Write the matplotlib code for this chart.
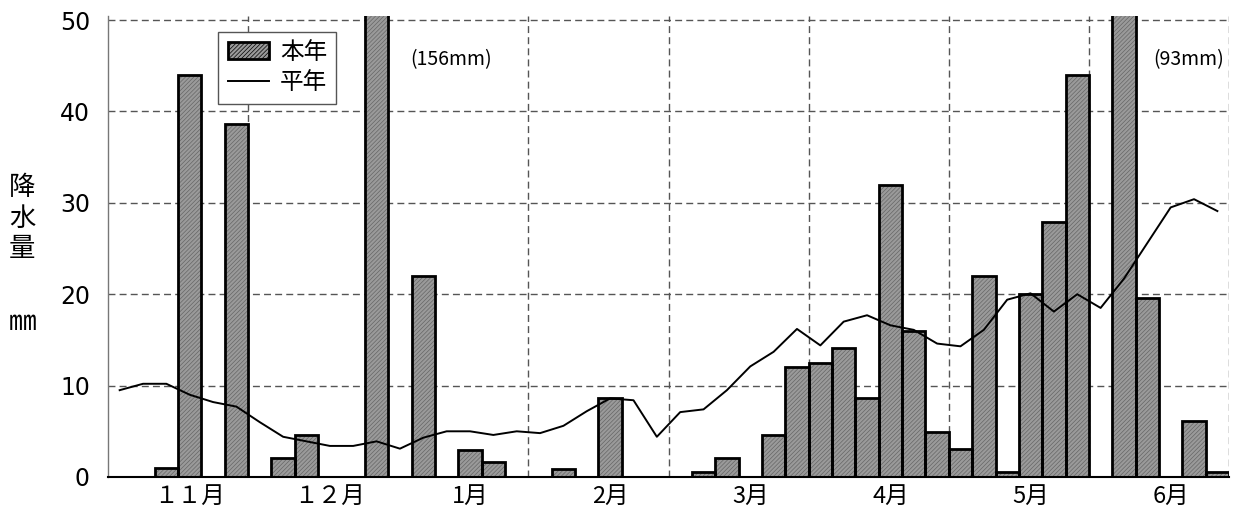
import numpy as np
import matplotlib.pyplot as plt

plt.rcParams['font.family'] = ['Noto Sans CJK JP', 'DejaVu Sans']
plt.rcParams['hatch.linewidth'] = 0.5

# 半旬ごとの降水量 (mm)：11月〜6月、各月6半旬
honnen = [0, 0, 1.0, 44, 0, 38.6,
          0, 2.1, 4.6, 0, 0, 156,
          0, 22, 0, 3.0, 1.6, 0,
          0, 0.9, 0, 8.6, 0, 0,
          0, 0.6, 2.1, 0, 4.6, 12.0,
          12.5, 14.1, 8.6, 31.9, 16.0, 4.9,
          3.1, 22.0, 0.6, 20.0, 27.9, 44.0,
          0, 93, 19.6, 0, 6.1, 0.6]
heinen = [9.5, 10.2, 10.2, 9.0, 8.2, 7.7,
          6.0, 4.4, 3.9, 3.4, 3.4, 3.9,
          3.1, 4.3, 5.0, 5.0, 4.6, 5.0,
          4.8, 5.6, 7.2, 8.6, 8.4, 4.4,
          7.1, 7.4, 9.5, 12.1, 13.7, 16.2,
          14.4, 17.0, 17.7, 16.6, 16.1, 14.6,
          14.3, 16.1, 19.4, 20.1, 18.1, 20.0,
          18.5, 21.7, 25.6, 29.5, 30.4, 29.1]
months = ['１１月', '１２月', '1月', '2月', '3月', '4月', '5月', '6月']
notes = ['(156mm)', '(93mm)']

x = np.arange(len(honnen))

fig = plt.figure(figsize=(12.34, 5.32), dpi=100)
ax = fig.add_axes([0.0875, 0.1034, 0.9085, 0.8666])

# 本年（棒）：ハッチ付きの塗り + 黒枠
ax.bar(x, honnen, width=1.0, facecolor='#9a9a9a', edgecolor='#666666',
       hatch='////////', linewidth=0, zorder=2)
ax.bar(x, honnen, width=1.0, fill=False, edgecolor='black', linewidth=2, zorder=3)

# 平年（折れ線）
ax.plot(x, heinen, color='black', linewidth=1.4, zorder=4)

# 凡例用ハンドル
h_bar = plt.Rectangle((0, 0), 1, 1, facecolor='#9a9a9a', edgecolor='black',
                      hatch='////////', linewidth=2)
h_line, = ax.plot([], [], color='black', linewidth=1.4)
leg = ax.legend([h_bar, h_line], ['本年', '平年'], loc='upper left',
                bbox_to_anchor=(0.0985, 0.966), fontsize=17, frameon=True,
                fancybox=False, framealpha=1, edgecolor='#555555',
                handlelength=1.75, handleheight=0.75, handletextpad=0.45,
                borderpad=0.4, labelspacing=0.3, borderaxespad=0)
leg.get_frame().set_linewidth(1.0)
leg.set_zorder(5)

# 目盛り・グリッド
ax.set_xlim(-0.5, len(honnen) - 0.5)
ax.set_ylim(0, 50.45)
ax.set_yticks(range(0, 51, 10))
ax.set_yticklabels([str(v) for v in range(0, 51, 10)], fontsize=17,
                   family='DejaVu Sans')
ax.set_xticks([6 * k + 3 for k in range(len(months))])
ax.set_xticklabels(months, fontsize=17)
ax.tick_params(axis='both', length=0)
ax.tick_params(axis='y', pad=13)
ax.tick_params(axis='x', pad=6)

for v in range(10, 51, 10):
    ax.axhline(v, color='#555555', linestyle=(0, (5, 3)), linewidth=1.0, zorder=1)
for k in range(1, len(months) + 1):
    ax.axvline(6 * k - 0.5, color='#555555', linestyle=(0, (5, 3)), linewidth=1.0, zorder=1)

for s in ['top', 'right']:
    ax.spines[s].set_visible(False)
ax.spines['left'].set_color('#777777')
ax.spines['left'].set_linewidth(1.0)
ax.spines['bottom'].set_color('black')
ax.spines['bottom'].set_linewidth(1.5)

# 欄外値の注記
ax.text(14.2, 45.7, notes[0], fontsize=14, ha='center', va='center', zorder=6)
ax.text(45.75, 45.7, notes[1], fontsize=14, ha='center', va='center', zorder=6)

# 縦軸タイトル
fig.text(0.018, 0.59, '降\n水\n量', fontsize=19, ha='center', va='center',
         linespacing=1.15)
fig.text(0.018, 0.395, '㎜', fontsize=20, ha='center', va='center')

fig.savefig('out.png', dpi=100)
